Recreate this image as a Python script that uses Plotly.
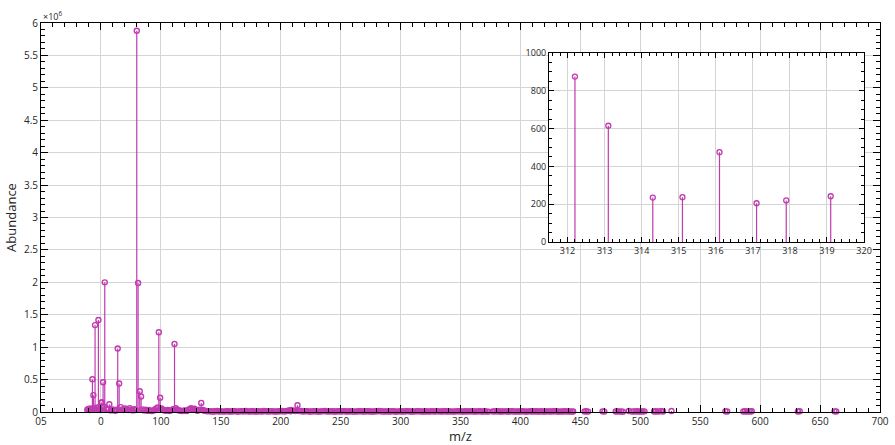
import plotly.graph_objects as go

# ---------------- data ----------------
# main spectrum: prominent peaks (m/z, abundance)
peak_mz = [42.9, 43.7, 45.1, 47.9, 50.4, 50.7, 51.8, 53.2, 57.0, 64.0, 65.2,
           79.9, 81.0, 82.4, 83.5, 98.3, 99.4, 111.4, 133.7, 208.6, 214.0]
peak_ab = [505000, 260000, 1340000, 1420000, 140000, 150000, 460000, 2000000, 120000, 980000, 440000,
           5880000, 1990000, 320000, 240000, 1230000, 220000, 1050000, 140000, 30000, 105000]

# main spectrum: low-level baseline signals
base_mz = [38.6, 39.5, 40.3, 41.2, 42.0, 44.4, 46.2, 47.0, 48.8, 49.6, 52.5, 54.5, 55.6, 58.3, 59.5,
           60.8, 62.0, 63.0, 66.5, 67.8, 69.0, 70.2, 71.5, 72.8, 74.0, 75.3, 76.6, 78.0, 79.0, 84.6,
           86.0, 87.3, 88.6, 90.0, 91.3, 92.6, 94.0, 95.3, 96.5, 97.4, 100.5, 101.6, 103.0, 104.3, 105.6,
           107.0, 108.3, 109.6, 110.5, 112.5, 113.8, 115.0, 116.3, 117.6, 119.0, 120.3, 121.6, 123.0, 124.2,
           125.2, 126.4, 128.0, 129.3, 130.6, 132.0, 135.0, 136.3, 137.6, 139.0, 141.0, 144.0, 147.0, 150.0,
           153.0, 156.0, 159.0, 162.0, 165.0, 168.0, 171.0, 174.0, 177.0, 180.0, 183.0, 186.0, 189.0, 192.0,
           195.0, 198.0, 201.0, 204.0, 206.5, 210.5, 212.0, 216.5, 219.0, 222.0, 225.0, 228.0, 231.0, 234.0,
           237.0, 240.0, 243.0, 246.0, 249.0, 252.0, 255.0, 258.0, 261.0, 264.0, 267.0, 270.0, 273.0, 276.0,
           279.0, 282.0, 285.0, 288.0, 291.0, 294.0, 297.0, 300.0, 303.0, 306.0, 309.0, 312.0, 315.0, 318.0,
           321.0, 324.0, 327.0, 330.0, 333.0, 336.0, 339.0, 342.0, 345.0, 348.0, 351.0, 354.0, 357.0, 360.0,
           363.0, 366.0, 369.0, 372.0, 377.0, 380.0, 383.0, 386.0, 389.0, 392.0, 395.0, 398.0, 401.0, 404.0,
           407.0, 410.0, 413.0, 416.0, 419.0, 422.0, 425.0, 428.0, 431.0, 434.0, 437.0, 440.0, 443.0,
           453.5, 455.0, 456.5, 468.5, 470.0, 479.5, 481.0, 482.5, 484.0, 485.5, 490.5,
           493.0, 494.5, 496.0, 497.5, 499.0, 500.5, 502.0, 503.5,
           511.5, 513.0, 514.5, 516.0, 517.5, 519.0, 526.0, 571.0, 572.5,
           586.0, 587.5, 589.0, 590.5, 592.0, 593.0, 631.5, 633.0, 662.0, 663.5]
base_ab = [35000, 48000, 30000, 55000, 40000, 60000, 38000, 70000, 45000, 30000, 80000, 50000, 35000, 25000, 40000,
           30000, 20000, 35000, 75000, 40000, 30000, 55000, 45000, 30000, 60000, 40000, 25000, 45000, 30000, 40000,
           25000, 35000, 20000, 30000, 20000, 15000, 25000, 45000, 60000, 70000, 55000, 35000, 25000, 20000, 30000,
           15000, 25000, 35000, 45000, 57000, 35000, 25000, 20000, 15000, 20000, 25000, 15000, 35000, 45000,
           57000, 40000, 50000, 30000, 20000, 35000, 30000, 20000, 15000, 10000, 12000, 8000, 15000, 10000,
           6000, 12000, 9000, 14000, 7000, 11000, 16000, 8000, 12000, 6000, 10000, 15000, 9000, 13000,
           7000, 11000, 16000, 12000, 25000, 20000, 15000, 18000, 10000, 14000, 8000, 12000, 6000, 10000,
           15000, 9000, 12000, 7000, 11000, 14000, 8000, 12000, 6000, 10000, 13000, 9000, 11000, 7000,
           12000, 15000, 9000, 10000, 8000, 12000, 6000, 11000, 9000, 14000, 7000, 10000, 12000, 8000,
           11000, 6000, 10000, 13000, 9000, 12000, 7000, 10000, 8000, 11000, 6000, 12000, 9000, 10000,
           7000, 11000, 8000, 6000, 9000, 12000, 7000, 10000, 8000, 11000, 6000, 9000, 12000, 8000,
           10000, 7000, 11000, 9000, 6000, 10000, 8000, 12000, 7000, 9000, 11000, 8000, 6000,
           8000, 12000, 6000, 10000, 6000, 8000, 12000, 6000, 10000, 5000, 15000,
           6000, 10000, 8000, 12000, 6000, 9000, 7000, 10000,
           8000, 12000, 6000, 10000, 14000, 8000, 15000, 10000, 8000,
           8000, 12000, 6000, 10000, 8000, 12000, 8000, 12000, 10000, 8000]

# extra baseline signals between the ones above (dense noise region)
fill_mz = [142.5, 145.5, 148.5, 151.5, 154.5, 157.5, 160.5, 163.5, 166.5, 169.5, 172.5, 175.5, 178.5,
           181.5, 184.5, 187.5, 190.5, 193.5, 196.5, 199.5, 202.5, 205.0, 208.0, 209.5, 213.0, 215.0,
           218.0, 220.5, 223.5, 226.5, 229.5, 232.5, 235.5, 238.5, 241.5, 244.5, 247.5, 250.5, 253.5,
           256.5, 259.5, 262.5, 265.5, 268.5, 271.5, 274.5, 277.5, 280.5, 283.5, 286.5, 289.5, 292.5,
           295.5, 298.5, 301.5, 304.5, 307.5, 310.5, 313.5, 316.5, 319.5, 322.5, 325.5, 328.5, 331.5,
           334.5, 337.5, 340.5, 343.5, 346.5, 349.5, 352.5, 355.5, 358.5, 361.5, 364.5, 367.5, 370.5,
           373.5, 378.5, 381.5, 384.5, 387.5, 390.5, 393.5, 396.5, 399.5, 402.5, 405.5, 408.5, 411.5,
           414.5, 417.5, 420.5, 423.5, 426.5, 429.5, 432.5, 435.5, 438.5, 441.5, 444.0]
fill_ab = [9000, 12000, 7000, 10000, 13000, 8000, 11000, 6000, 14000, 9000, 10000, 12000, 7000,
           11000, 8000, 13000, 9000, 10000, 6000, 12000, 9000, 14000, 11000, 18000, 22000, 16000,
           9000, 12000, 8000, 10000, 11000, 7000, 13000, 9000, 10000, 8000, 12000, 6000, 11000,
           9000, 10000, 7000, 12000, 8000, 11000, 9000, 6000, 10000, 12000, 8000, 9000, 11000,
           7000, 10000, 8000, 12000, 9000, 6000, 11000, 10000, 8000, 9000, 12000, 7000, 10000,
           8000, 11000, 9000, 6000, 10000, 12000, 8000, 9000, 11000, 7000, 10000, 8000, 12000,
           6000, 9000, 11000, 8000, 10000, 7000, 12000, 9000, 8000, 10000, 6000, 11000, 9000,
           8000, 12000, 7000, 10000, 9000, 11000, 6000, 8000, 10000, 9000, 7000]

# inset: zoomed region 311.5 - 320
inset_mz = [312.2, 313.1, 314.3, 315.1, 316.1, 317.1, 317.9, 319.1]
inset_ab = [875, 615, 235, 237, 475, 205, 220, 242]

# tick labels
x_tick_vals = [0, 50, 100, 150, 200, 250, 300, 350, 400, 450, 500, 550, 600, 650, 700]
x_tick_text = ["05", "0", "100", "150", "200", "250", "300", "350", "400", "450", "500", "550", "600", "650", "700"]
y_tick_vals = [0, 500000, 1000000, 1500000, 2000000, 2500000, 3000000, 3500000,
               4000000, 4500000, 5000000, 5500000, 6000000]
y_tick_text = ["0", "0.5", "1", "1.5", "2", "2.5", "3", "3.5", "4", "4.5", "5", "5.5", "6"]
inset_x_ticks = [312, 313, 314, 315, 316, 317, 318, 319, 320]
inset_y_ticks = [0, 200, 400, 600, 800, 1000]

COLOR = "#C03AB0"
FONT = "Open Sans"


def stems(xs, ys):
    sx, sy = [], []
    for x, y in zip(xs, ys):
        sx += [x, x, None]
        sy += [0, y, None]
    return sx, sy


all_mz = base_mz + fill_mz + peak_mz
all_ab = base_ab + fill_ab + peak_ab

fig = go.Figure()

sx, sy = stems(all_mz, all_ab)
fig.add_trace(go.Scatter(x=sx, y=sy, mode="lines", line=dict(color=COLOR, width=1.2),
                         hoverinfo="skip", cliponaxis=False))
fig.add_trace(go.Scatter(x=all_mz, y=all_ab, mode="markers", cliponaxis=False,
                         marker=dict(symbol="circle-open", size=5, color=COLOR,
                                     line=dict(width=1.4, color=COLOR))))

ix, iy = stems(inset_mz, inset_ab)
fig.add_trace(go.Scatter(x=ix, y=iy, mode="lines", line=dict(color=COLOR, width=1.2),
                         xaxis="x2", yaxis="y2", hoverinfo="skip", cliponaxis=False))
fig.add_trace(go.Scatter(x=inset_mz, y=inset_ab, mode="markers", xaxis="x2", yaxis="y2",
                         cliponaxis=False,
                         marker=dict(symbol="circle-open", size=5, color=COLOR,
                                     line=dict(width=1.3, color=COLOR))))

axis_common = dict(showline=True, linecolor="black", linewidth=1, mirror="allticks",
                   ticks="inside", tickcolor="black", zeroline=False, automargin=False,
                   gridcolor="#d4d4d4", gridwidth=1)

fig.update_layout(
    width=895, height=445,
    margin=dict(l=41, r=15, t=23, b=33),
    paper_bgcolor="white", plot_bgcolor="white",
    showlegend=False,
    font=dict(family=FONT, color="#262626", size=10),
    xaxis=dict(range=[0, 700], tickmode="array", tickvals=x_tick_vals, ticktext=x_tick_text,
               ticklen=7, tickfont=dict(size=10, color="#262626"),
               minor=dict(tickmode="linear", tick0=0, dtick=10, ticklen=4, ticks="inside",
                          tickcolor="black", showgrid=False),
               title=dict(text="m/z", font=dict(size=13, color="#262626"), standoff=2),
               **axis_common),
    yaxis=dict(range=[0, 6000000], tickmode="array", tickvals=y_tick_vals, ticktext=y_tick_text,
               ticklen=7, tickfont=dict(size=10, color="#262626"),
               minor=dict(tickmode="linear", tick0=0, dtick=100000, ticklen=4, ticks="inside",
                          tickcolor="black", showgrid=False),
               title=dict(text="Abundance", font=dict(size=13, color="#262626"), standoff=4),
               **axis_common),
    xaxis2=dict(domain=[0.6055, 0.981], anchor="y2", range=[311.5, 320],
                tickmode="array", tickvals=inset_x_ticks, ticklen=5,
                tickfont=dict(size=9, color="#262626"),
                minor=dict(tickmode="linear", tick0=312, dtick=0.2, ticklen=3, ticks="inside",
                           tickcolor="black", showgrid=False),
                **axis_common),
    yaxis2=dict(domain=[0.437, 0.923], anchor="x2", range=[0, 1000],
                tickmode="array", tickvals=inset_y_ticks, ticklen=5,
                tickfont=dict(size=9, color="#262626"),
                minor=dict(tickmode="linear", tick0=0, dtick=50, ticklen=3, ticks="inside",
                           tickcolor="black", showgrid=False),
                **axis_common),
    annotations=[dict(text="×10<sup>6</sup>", xref="paper", yref="paper", x=0, y=1,
                      xanchor="left", yanchor="bottom", showarrow=False, yshift=-2,
                      font=dict(size=9, color="#262626"))],
)

fig.write_html("out.html", config={"displayModeBar": False},
               post_script="document.body.style.margin='0';document.body.style.overflow='hidden';")
